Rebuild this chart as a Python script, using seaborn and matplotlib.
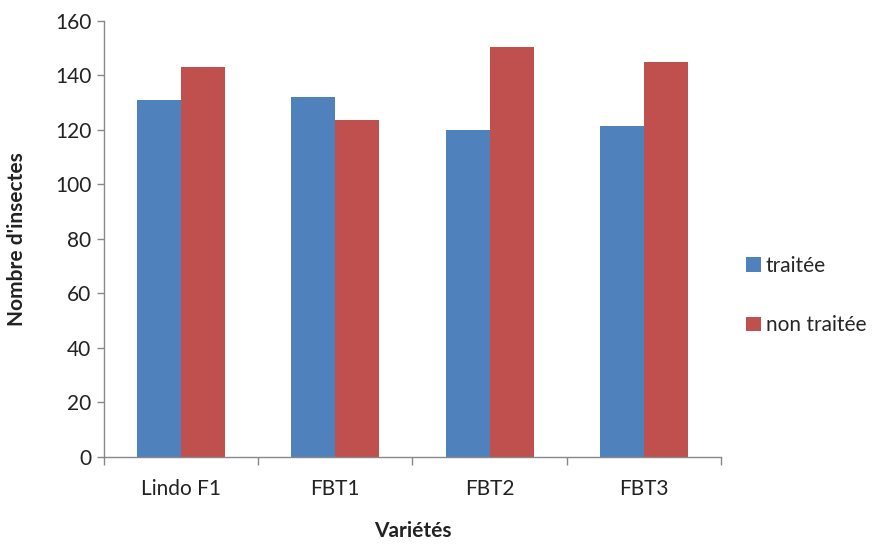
import matplotlib
matplotlib.use("Agg")
import matplotlib.pyplot as plt
import seaborn as sns
import pandas as pd
from matplotlib.ticker import FixedLocator

categories = ["Lindo F1", "FBT1", "FBT2", "FBT3"]
series_names = ["traitée", "non traitée"]
traitee = [131, 132, 120, 121.5]
non_traitee = [143, 123.5, 150.5, 145]
colors = ["#4F81BD", "#C0504D"]
yticks = [0, 20, 40, 60, 80, 100, 120, 140, 160]

df = pd.DataFrame({
    "Variété": categories * 2,
    "Traitement": [series_names[0]] * len(categories) + [series_names[1]] * len(categories),
    "Nombre": traitee + non_traitee,
})

sns.set_theme(style="white")
plt.rcParams["font.family"] = ["Lato", "DejaVu Sans"]

fig = plt.figure(figsize=(8.86, 5.46), dpi=100)
ax = fig.add_axes([0.117, 0.163, 0.697, 0.799])

sns.barplot(data=df, x="Variété", y="Nombre", hue="Traitement",
            hue_order=series_names, order=categories, palette=colors,
            width=0.57, saturation=1, ax=ax, edgecolor="none")

ax.set_ylim(0, 160)
ax.set_xlim(-0.5, len(categories) - 0.5)
ax.set_yticks(yticks)
ax.set_yticklabels([str(t) for t in yticks], fontsize=15, color="#222222")
ax.tick_params(axis="y", direction="out", length=5, width=1, color="#888888", left=True, pad=4)
ax.tick_params(axis="x", which="major", length=0, labelsize=15, labelcolor="#222222", pad=16)
ax.xaxis.set_minor_locator(FixedLocator([i - 0.5 for i in range(len(categories) + 1)]))
ax.tick_params(axis="x", which="minor", direction="out", length=6, width=1, color="#888888", bottom=True)

for s in ["top", "right"]:
    ax.spines[s].set_visible(False)
for s in ["left", "bottom"]:
    ax.spines[s].set_color("#888888")
    ax.spines[s].set_linewidth(1)

ax.set_xlabel("Variétés", fontsize=15, fontweight="bold", labelpad=16, color="#222222")
ax.set_ylabel("Nombre d'insectes", fontsize=15, fontweight="bold", labelpad=20, color="#222222")

leg = ax.legend(loc="center left", bbox_to_anchor=(1.01, 0.37), frameon=False,
                fontsize=15, handlelength=0.7, handleheight=0.7, handletextpad=0.25,
                labelspacing=1.9)

fig.savefig("out.png", dpi=100)
